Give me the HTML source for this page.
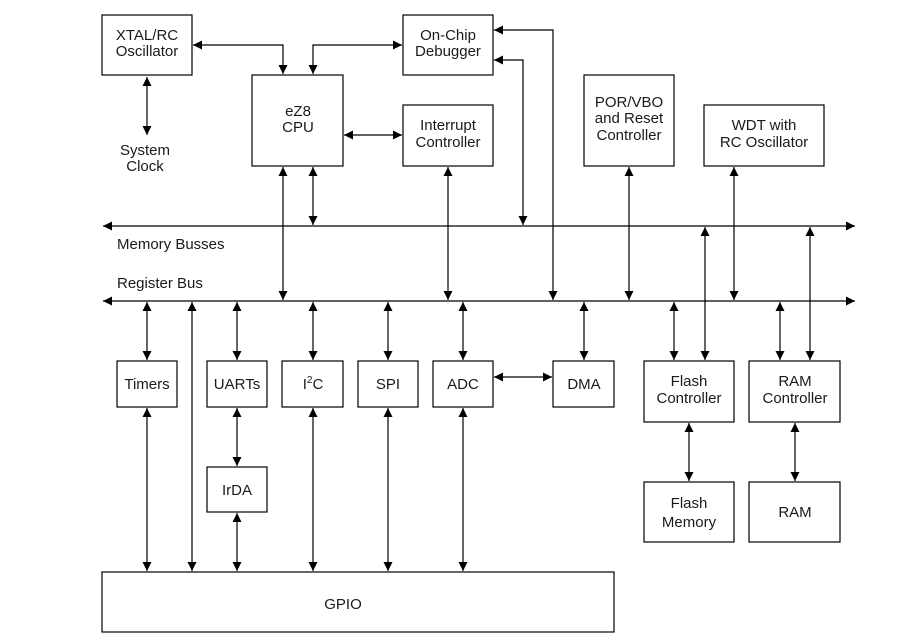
<!DOCTYPE html>
<html><head><meta charset="utf-8"><style>
html,body{margin:0;padding:0;background:#fff}
svg{display:block}
text{font-family:"Liberation Sans",Arial,sans-serif;font-size:15px;fill:#1a1a1a;text-anchor:middle}
</style></head><body>
<svg width="902" height="642" viewBox="0 0 902 642" xmlns="http://www.w3.org/2000/svg">
<defs>
<marker id="a" viewBox="0 0 10 10" refX="10" refY="5" markerWidth="14" markerHeight="9" markerUnits="userSpaceOnUse" orient="auto-start-reverse">
<path d="M0,0 L10,5 L0,10 Z" fill="#000"/></marker>
</defs>
<g fill="none" stroke="#000" stroke-width="1.2">
<rect x="102" y="15" width="90" height="60"/>
<rect x="252" y="75" width="91" height="91"/>
<rect x="403" y="15" width="90" height="60"/>
<rect x="403" y="105" width="90" height="61"/>
<rect x="584" y="75" width="90" height="91"/>
<rect x="704" y="105" width="120" height="61"/>
<rect x="117" y="361" width="60" height="46"/>
<rect x="207" y="361" width="60" height="46"/>
<rect x="282" y="361" width="61" height="46"/>
<rect x="358" y="361" width="60" height="46"/>
<rect x="433" y="361" width="60" height="46"/>
<rect x="553" y="361" width="61" height="46"/>
<rect x="644" y="361" width="90" height="61"/>
<rect x="749" y="361" width="91" height="61"/>
<rect x="644" y="482" width="90" height="60"/>
<rect x="749" y="482" width="91" height="60"/>
<rect x="207" y="467" width="60" height="45"/>
<rect x="102" y="572" width="512" height="60"/>
</g>
<g fill="none" stroke="#000" stroke-width="1.2" marker-end="url(#a)" marker-start="url(#a)">
<line x1="103" y1="226" x2="855" y2="226"/>
<line x1="103" y1="301" x2="855" y2="301"/>
<polyline points="193,45 283,45 283,74"/>
<polyline points="402,45 313,45 313,74"/>
<line x1="344" y1="135" x2="402" y2="135"/>
<line x1="147" y1="77" x2="147" y2="135"/>
<line x1="283" y1="167" x2="283" y2="300"/>
<line x1="313" y1="167" x2="313" y2="225"/>
<line x1="448" y1="167" x2="448" y2="300"/>
<polyline points="494,30 553,30 553,300"/>
<polyline points="494,60 523,60 523,225"/>
<line x1="629" y1="167" x2="629" y2="300"/>
<line x1="734" y1="167" x2="734" y2="300"/>
<line x1="705" y1="227" x2="705" y2="360"/>
<line x1="810" y1="227" x2="810" y2="360"/>
<line x1="147" y1="302" x2="147" y2="360"/>
<line x1="147" y1="408" x2="147" y2="571"/>
<line x1="192" y1="302" x2="192" y2="571"/>
<line x1="237" y1="302" x2="237" y2="360"/>
<line x1="237" y1="408" x2="237" y2="466"/>
<line x1="237" y1="513" x2="237" y2="571"/>
<line x1="313" y1="302" x2="313" y2="360"/>
<line x1="313" y1="408" x2="313" y2="571"/>
<line x1="388" y1="302" x2="388" y2="360"/>
<line x1="388" y1="408" x2="388" y2="571"/>
<line x1="463" y1="302" x2="463" y2="360"/>
<line x1="463" y1="408" x2="463" y2="571"/>
<line x1="494" y1="377" x2="552" y2="377"/>
<line x1="584" y1="302" x2="584" y2="360"/>
<line x1="674" y1="302" x2="674" y2="360"/>
<line x1="780" y1="302" x2="780" y2="360"/>
<line x1="689" y1="423" x2="689" y2="481"/>
<line x1="795" y1="423" x2="795" y2="481"/>
</g>
<text x="147" y="40">XTAL/RC</text><text x="147" y="56">Oscillator</text>
<text x="145" y="155">System</text><text x="145" y="171">Clock</text>
<text x="298" y="116">eZ8</text><text x="298" y="132">CPU</text>
<text x="448" y="40">On-Chip</text><text x="448" y="56">Debugger</text>
<text x="448" y="130">Interrupt</text><text x="448" y="147">Controller</text>
<text x="629" y="107">POR/VBO</text><text x="629" y="123">and Reset</text><text x="629" y="140">Controller</text>
<text x="764" y="130">WDT with</text><text x="764" y="147">RC Oscillator</text>
<text x="117" y="249" style="text-anchor:start">Memory Busses</text>
<text x="117" y="288" style="text-anchor:start">Register Bus</text>
<text x="147" y="389">Timers</text>
<text x="237" y="389">UARTs</text>
<text x="313" y="389">I<tspan font-size="10" dy="-6">2</tspan><tspan dy="6">C</tspan></text>
<text x="388" y="389">SPI</text>
<text x="463" y="389">ADC</text>
<text x="584" y="389">DMA</text>
<text x="689" y="386">Flash</text><text x="689" y="403">Controller</text>
<text x="795" y="386">RAM</text><text x="795" y="403">Controller</text>
<text x="689" y="508">Flash</text><text x="689" y="527">Memory</text>
<text x="795" y="517">RAM</text>
<text x="237" y="495">IrDA</text>
<text x="343" y="609">GPIO</text>
</svg>
</body></html>
